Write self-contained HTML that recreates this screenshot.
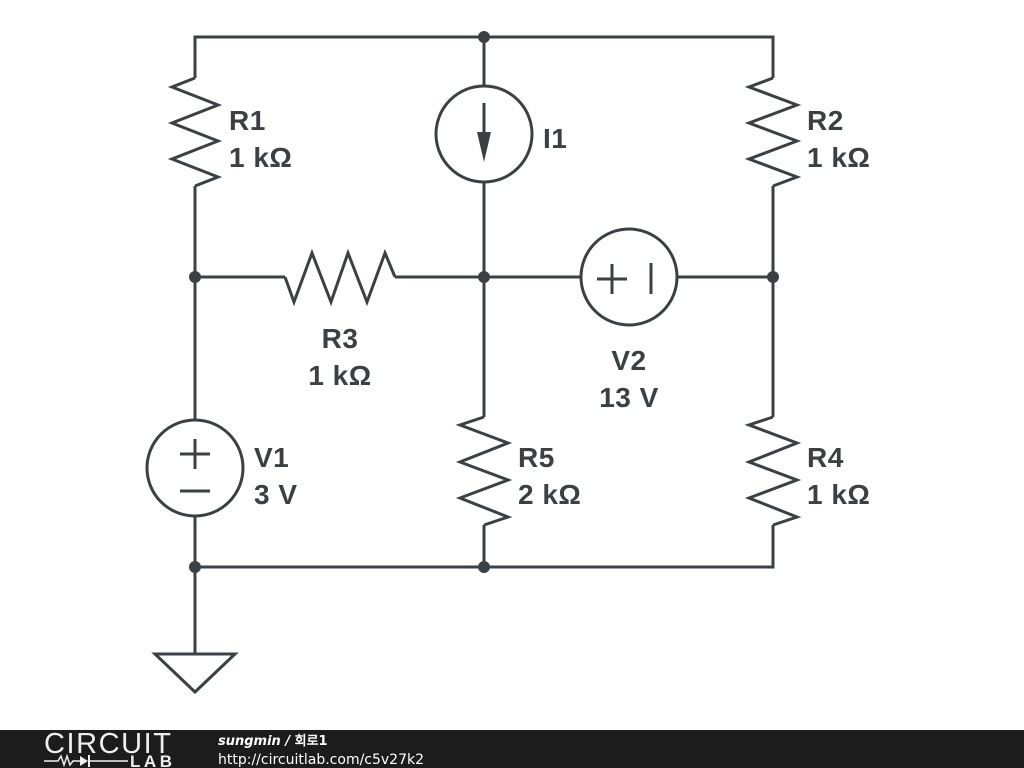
<!DOCTYPE html>
<html><head><meta charset="utf-8"><style>
body{margin:0;width:1024px;height:768px;background:#fff;overflow:hidden;position:relative}
svg{position:absolute;left:0;top:0}
.t{font-family:"Liberation Sans",sans-serif;font-weight:bold;font-size:28px;fill:#3a4145;letter-spacing:0.5px}
.bar{position:absolute;left:0;top:730px;width:1024px;height:38px;background:#1c1c1c}
</style></head><body>
<svg width="1024" height="768">
<g stroke="#3a4145" stroke-width="3" fill="none" stroke-linejoin="miter">
<polyline points="195,78 195,37 773,37 773,78"/>
<line x1="195" y1="186" x2="195" y2="420"/>
<line x1="195" y1="516" x2="195" y2="654"/>
<line x1="195" y1="277" x2="285" y2="277"/>
<line x1="395" y1="277" x2="581" y2="277"/>
<line x1="677" y1="277" x2="773" y2="277"/>
<line x1="484" y1="37" x2="484" y2="86"/>
<line x1="484" y1="182" x2="484" y2="417"/>
<line x1="484" y1="525" x2="484" y2="567"/>
<line x1="773" y1="186" x2="773" y2="417"/>
<polyline points="773,525 773,567 195,567"/>
<polyline points="195,78 172,87 218,105 172,123 218,141 172,159 218,177 195,186"/>
<polyline points="773,78 749,87 797,105 749,123 797,141 749,159 797,177 773,186"/>
<polyline points="484,417 460,425 508,443 460,462 508,480 460,498 508,517 484,525"/>
<polyline points="773,417 749,425 797,443 749,462 797,480 749,498 797,517 773,525"/>
<polyline points="285,277 294,302 312,253 331,302 348,253 367,302 385,253 395,277"/>
<circle cx="484" cy="134" r="48"/>
<line x1="484" y1="103" x2="484" y2="140"/>
<circle cx="629" cy="277" r="48"/>
<line x1="597" y1="279" x2="627" y2="279"/><line x1="612" y1="264" x2="612" y2="294"/>
<line x1="651" y1="263" x2="651" y2="294"/>
<circle cx="195" cy="468" r="48"/>
<line x1="180" y1="454" x2="210" y2="454"/><line x1="195" y1="439" x2="195" y2="469"/>
<line x1="180" y1="491" x2="210" y2="491"/>
<polygon points="155,654 235,654 195,692"/>
</g>
<polygon points="477,132 491,132 484,162" fill="#3a4145"/>
<g fill="#3a4145">
<circle cx="484" cy="37" r="6"/><circle cx="195" cy="277" r="6"/><circle cx="484" cy="277" r="6"/>
<circle cx="773" cy="277" r="6"/><circle cx="195" cy="567" r="6"/><circle cx="484" cy="567" r="6"/>
</g>
<text class="t" x="229" y="130">R1</text><text class="t" x="229" y="167">1 kΩ</text>
<text class="t" x="807" y="130">R2</text><text class="t" x="807" y="167">1 kΩ</text>
<text class="t" x="543" y="148">I1</text>
<text class="t" x="340" y="348" text-anchor="middle">R3</text><text class="t" x="340" y="385" text-anchor="middle">1 kΩ</text>
<text class="t" x="629" y="370" text-anchor="middle">V2</text><text class="t" x="629" y="407" text-anchor="middle">13 V</text>
<text class="t" x="254" y="467">V1</text><text class="t" x="254" y="504">3 V</text>
<text class="t" x="518" y="467">R5</text><text class="t" x="518" y="504">2 kΩ</text>
<text class="t" x="807" y="467">R4</text><text class="t" x="807" y="504">1 kΩ</text>
</svg>
<div class="bar"></div>
<svg width="1024" height="768">
<text x="44" y="753" font-family="Liberation Sans,sans-serif" font-size="29" fill="#eee" letter-spacing="1" textLength="128">CIRCUIT</text>
<polyline points="44,761 58,761 61,756 64,765 67,756 70,765 73,761 80,761" stroke="#eee" stroke-width="1.5" fill="none"/>
<polygon points="80,756 80,766 88,761" fill="#eee"/><line x1="89" y1="755" x2="89" y2="767" stroke="#eee" stroke-width="2"/>
<line x1="89" y1="761" x2="128" y2="761" stroke="#eee" stroke-width="1.5"/>
<text x="130" y="767" font-family="Liberation Sans,sans-serif" font-weight="bold" font-size="17" fill="#eee" textLength="42">LAB</text>
<text x="218" y="745" font-family="DejaVu Sans,sans-serif" font-style="italic" font-weight="bold" font-size="13" fill="#fff">sungmin / <tspan font-style="normal">회로1</tspan></text>
<text x="218" y="764" font-family="DejaVu Sans,sans-serif" font-size="14" fill="#fff">http://circuitlab.com/c5v27k2</text>
</svg>
</body></html>
